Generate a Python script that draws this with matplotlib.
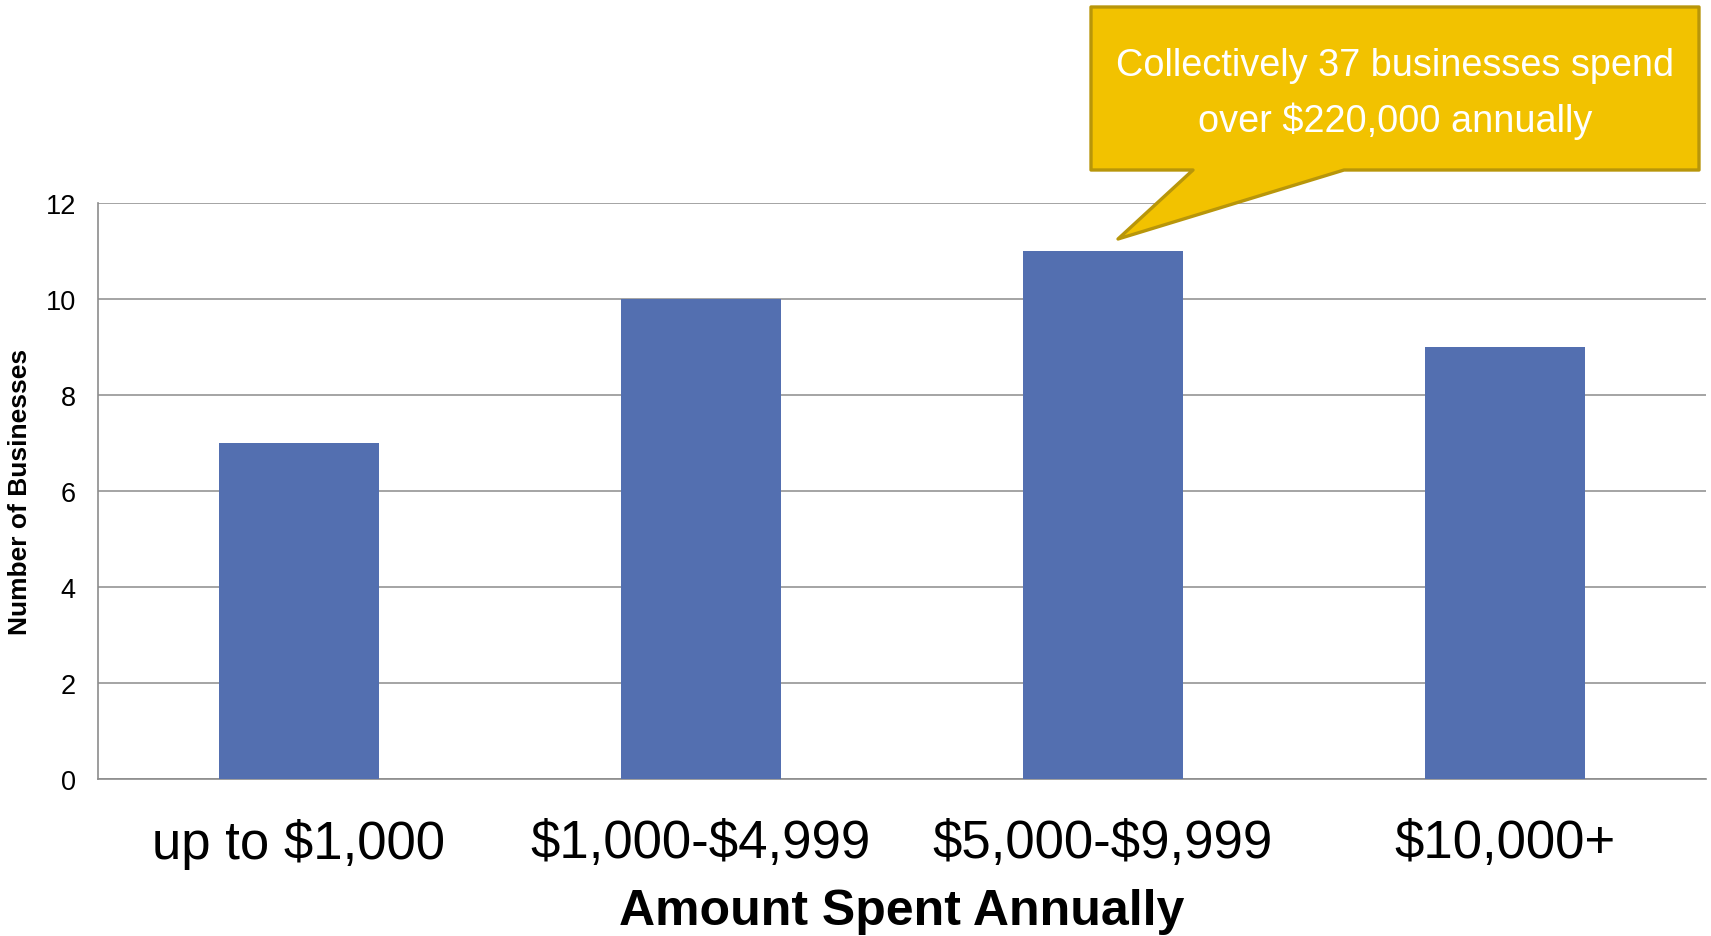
import matplotlib.pyplot as plt
from matplotlib.patches import Polygon

# data
categories = ['up to \\$1,000', '\\$1,000-\\$4,999', '\\$5,000-\\$9,999', '\\$10,000+']
businesses = [7, 10, 11, 9]
y_ticks = [0, 2, 4, 6, 8, 10, 12]
callout_text = 'Collectively 37 businesses spend\nover \\$220,000 annually'

plt.rcParams['font.family'] = ['Liberation Sans', 'DejaVu Sans']

W, H = 1711, 937
fig = plt.figure(figsize=(W / 100, H / 100), dpi=100)
ax = fig.add_axes([98 / W, 1 - 780 / H, (1706 - 98) / W, (780 - 204) / H])

x = range(len(categories))
ax.bar(x, businesses, width=0.4, color='#536FB0', zorder=3)

ax.set_xlim(-0.5, len(categories) - 0.5)
ax.set_ylim(0, 12)
ax.set_yticks(y_ticks)
ax.set_xticks(list(x))
ax.set_xticklabels(categories)
ax.tick_params(axis='y', length=0, pad=16, labelsize=19.5)
ax.tick_params(axis='x', length=0, pad=28, labelsize=38)
ax.grid(axis='y', color='#8c8c8c', linewidth=1.1, zorder=0)

for s in ['top', 'right']:
    ax.spines[s].set_visible(False)
for s in ['left', 'bottom']:
    ax.spines[s].set_color('#8c8c8c')
    ax.spines[s].set_linewidth(1.2)

ax.set_xlabel('Amount Spent Annually', fontsize=36, fontweight='bold', labelpad=14)
ax.set_ylabel('Number of Businesses', fontsize=19, fontweight='bold', labelpad=10)

# callout box (figure fraction coords)
x0, x1 = 1091 / W, 1699 / W
yt, yb = 1 - 8 / H, 1 - 171 / H
pb1, pb2 = 1193 / W, 1344 / W
tip = (1118 / W, 1 - 240 / H)
poly = Polygon([(x0, yt), (x1, yt), (x1, yb), (pb2, yb), tip, (pb1, yb), (x0, yb)],
               closed=True, transform=fig.transFigure, facecolor='#F2C200',
               edgecolor='#B8960A', linewidth=2.4, joinstyle='round', zorder=10)
fig.patches.append(poly)
fig.text((x0 + x1) / 2, 1 - 94 / H, callout_text, color='white', fontsize=27.3,
         ha='center', va='center', linespacing=1.6, zorder=11)

plt.savefig('out.png', dpi=100)
